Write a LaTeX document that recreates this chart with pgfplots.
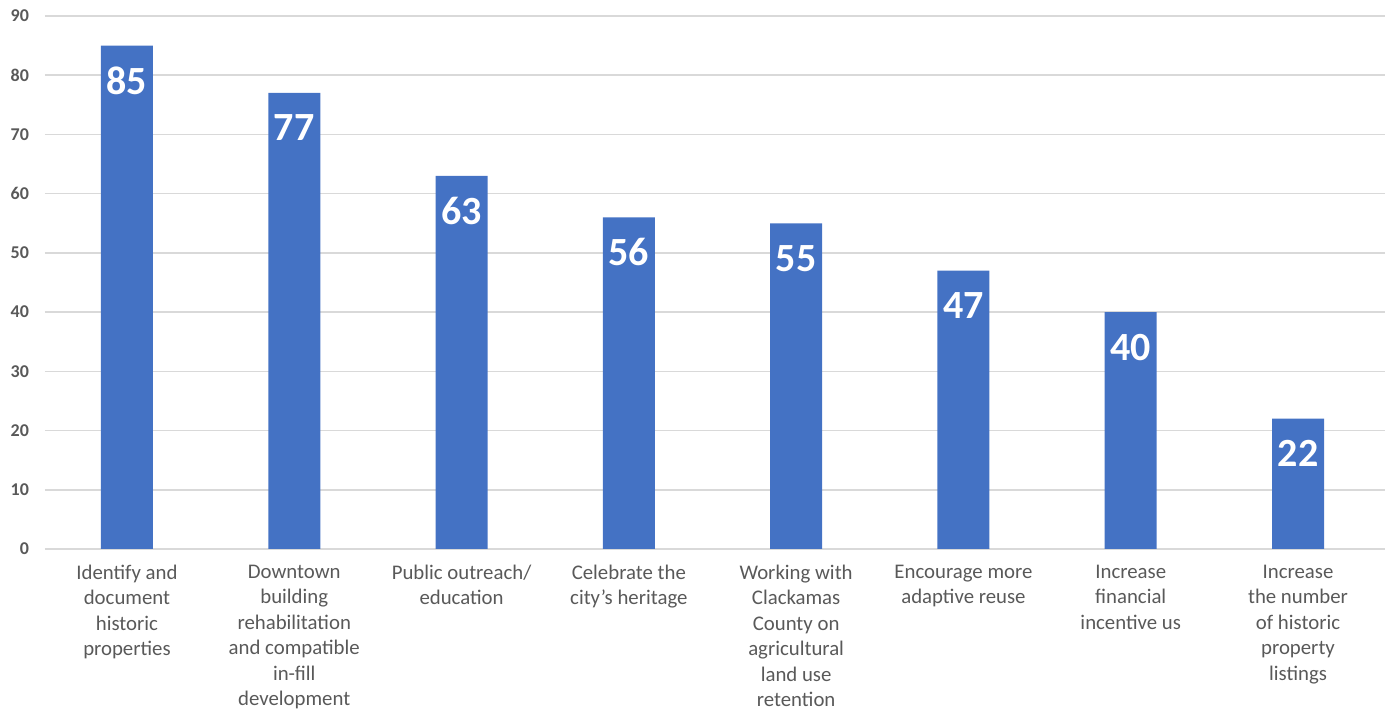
\documentclass[border=0pt]{standalone}
\usepackage{fontspec}
\setmainfont{Carlito}
\usepackage{pgfplots}
\pgfplotsset{compat=1.18}
\definecolor{barblue}{HTML}{4472C4}
\definecolor{gridgray}{HTML}{D9D9D9}
\definecolor{txtgray}{HTML}{595959}
\begin{document}
\begin{tikzpicture}
\begin{axis}[
  scale only axis, width=670pt, height=266.5pt,
  xmin=-0.49, xmax=7.52, ymin=0, ymax=90,
  ytick={0,10,...,90},
  xtick=data,
  xticklabels={{Identify and\\document\\historic\\properties},
               {Downtown\\building\\rehabilitation\\and compatible\\in-fill\\development},
               {Public outreach/\\education},
               {Celebrate the\\city’s heritage},
               {Working with\\Clackamas\\County on\\agricultural\\land use\\retention},
               {Encourage more\\adaptive reuse},
               {Increase\\financial\\incentive us},
               {Increase\\the number\\of historic\\property\\listings}},
  axis line style={draw=none},
  major tick length=0pt,
  tick style={draw=none},
  ymajorgrids,
  grid style={gridgray, line width=0.8pt},
  /pgf/number format/assume math mode=true,
  yticklabel style={font=\bfseries\fontsize{9}{10}\selectfont, text=txtgray, anchor=east, xshift=-4.5pt},
  xticklabel style={font=\fontsize{10.4}{12.75}\selectfont, text=txtgray, align=center, anchor=north, yshift=-4.5pt},
  ybar, bar width=26pt,
  nodes near coords,
  every node near coord/.append style={font=\bfseries\fontsize{20}{24}\selectfont, text=white, anchor=center, yshift=-17.5pt},
]
\addplot[fill=barblue, draw=none] coordinates {(0,85) (1,77) (2,63) (3,56) (4,55) (5,47) (6,40) (7,22)};
\end{axis}
\pgfresetboundingbox
\path[use as bounding box] ([xshift=-22.5pt,yshift=-81.5pt]current axis.south west) rectangle ([xshift=1.5pt,yshift=8pt]current axis.north east);
\end{tikzpicture}
\end{document}
